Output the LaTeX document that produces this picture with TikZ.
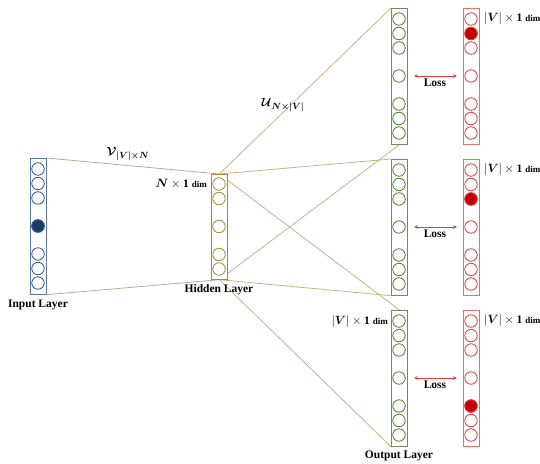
\documentclass[tikz,border=0pt]{standalone}
\usepackage{amsmath,bm}
\usepackage{fontspec}
\setmainfont{Liberation Serif}
\usetikzlibrary{arrows.meta,backgrounds}
\definecolor{inbox}{RGB}{95,115,165}
\definecolor{incirc}{RGB}{47,85,151}
\definecolor{infill}{RGB}{31,56,100}
\definecolor{hidcol}{RGB}{168,138,60}
\definecolor{grbox}{RGB}{110,140,90}
\definecolor{grcirc}{RGB}{84,125,55}
\definecolor{rdbox}{RGB}{235,110,110}
\definecolor{rdcirc}{RGB}{225,60,60}
\definecolor{rdfill}{RGB}{192,0,0}
\definecolor{lineA}{RGB}{165,180,150}
\definecolor{lineB}{RGB}{200,178,130}
\begin{document}
\begin{tikzpicture}[x=1pt,y=-1pt,
  colbox/.style={draw, fill=white, rectangle, inner sep=0pt, minimum width=16pt, anchor=north west, line width=0.7pt},
  nrn/.style={draw, circle, inner sep=0pt, minimum size=12.5pt, line width=0.8pt, fill=white},
  lbl/.style={font=\fontsize{11.5}{13}\selectfont\bfseries, inner sep=0pt},
  dimtxt/.style={font=\fontsize{11.5}{13}\selectfont\bfseries, inner sep=0pt},
  lossarrow/.style={draw=rdcirc, line width=0.7pt, {Stealth[length=4pt,width=3.5pt]}-{Stealth[length=4pt,width=3.5pt]}},
  wA/.style={draw=lineA, line width=0.8pt},
  wB/.style={draw=lineB, line width=0.8pt}]
\useasboundingbox (0,0) rectangle (540,463);

% input layer
\node[colbox, draw=inbox, minimum height=136pt] (inL) at (30,158) {};
\foreach \k/\o in {1/11,2/25.5,3/40,4/68,5/96,6/110.5,7/125}
  \node[nrn, draw=incirc] (in\k) at (38,{158+\o}) {};
\node[nrn, draw=incirc, fill=infill] (in4f) at (in4) {};

% hidden layer
\node[colbox, draw=hidcol, minimum height=105pt] (hidL) at (211,174) {};
\foreach \k/\o in {1/10,2/24.5,3/52.5,4/80.5,5/95}
  \node[nrn, draw=hidcol] (h\k) at (219,{174+\o}) {};

% output layers (green) and targets (red)
\foreach \c/\t in {1/8,2/159,3/310}{
  \node[colbox, draw=grbox, minimum height=136pt] (g\c) at (391,\t) {};
  \node[colbox, draw=rdbox, minimum height=136pt] (r\c) at (463,\t) {};
  \foreach \k/\o in {1/11,2/25.5,3/40,4/68,5/96,6/110.5,7/125}{
    \node[nrn, draw=grcirc] (g\c c\k) at (399,{\t+\o}) {};
    \node[nrn, draw=rdcirc] (r\c c\k) at (471,{\t+\o}) {};
  }
  \coordinate (la\c) at (414,{\t+68});
  \coordinate (lb\c) at (457,{\t+68});
  \draw[lossarrow] (la\c) -- (lb\c);
  \node[lbl] (loss\c) at (435,{\t+75}) {Loss};
  \node[dimtxt, anchor=west] (rdim\c) at (484,{\t+10}) {$|\bm{V}|\times\mathbf{1}$ {\fontsize{9}{10}\selectfont dim}};
}
\node[nrn, draw=rdcirc, fill=rdfill] (f1) at (r1c2) {};
\node[nrn, draw=rdcirc, fill=rdfill] (f2) at (r2c3) {};
\node[nrn, draw=rdcirc, fill=rdfill] (f3) at (r3c5) {};

% labels
\node[lbl] (inlab) at (38,305) {Input Layer};
\node[lbl] (hidlab) at (219,290) {Hidden Layer};
\node[lbl] (outlab) at (399,456) {Output Layer};
\node[dimtxt, anchor=east] (hdim) at (207,184) {$\bm{N}\times\mathbf{1}$ {\fontsize{9}{10}\selectfont dim}};
\node[dimtxt, anchor=east] (gdim) at (388,321) {$|\bm{V}|\times\mathbf{1}$ {\fontsize{9}{10}\selectfont dim}};
\node[inner sep=0pt, font=\fontsize{13}{15}\selectfont] (vlab) at (128,154) {$\bm{\mathcal{V}}_{\bm{|V|\times N}}$};
\node[inner sep=0pt, font=\fontsize{13}{15}\selectfont] (ulab) at (283,105) {$\bm{\mathcal{U}}_{\bm{N\times|V|}}$};

% connectors
\begin{scope}[on background layer]
  \draw[wA] (inL.north east) -- (hidL.north);
  \draw[wA] (inL.south east) -- (hidL.south);
  \draw[wB] (hidL.north) -- (g1.north west);
  \draw[wB] (hidL.south) -- (g1.south);
  \draw[wB] (hidL.north) -- (g2.north west);
  \draw[wB] (hidL.south) -- (g2.south west);
  \draw[wB] (hidL.north) -- (g3.north);
  \draw[wB] (hidL.south) -- (g3.south west);
\end{scope}
\end{tikzpicture}
\end{document}
